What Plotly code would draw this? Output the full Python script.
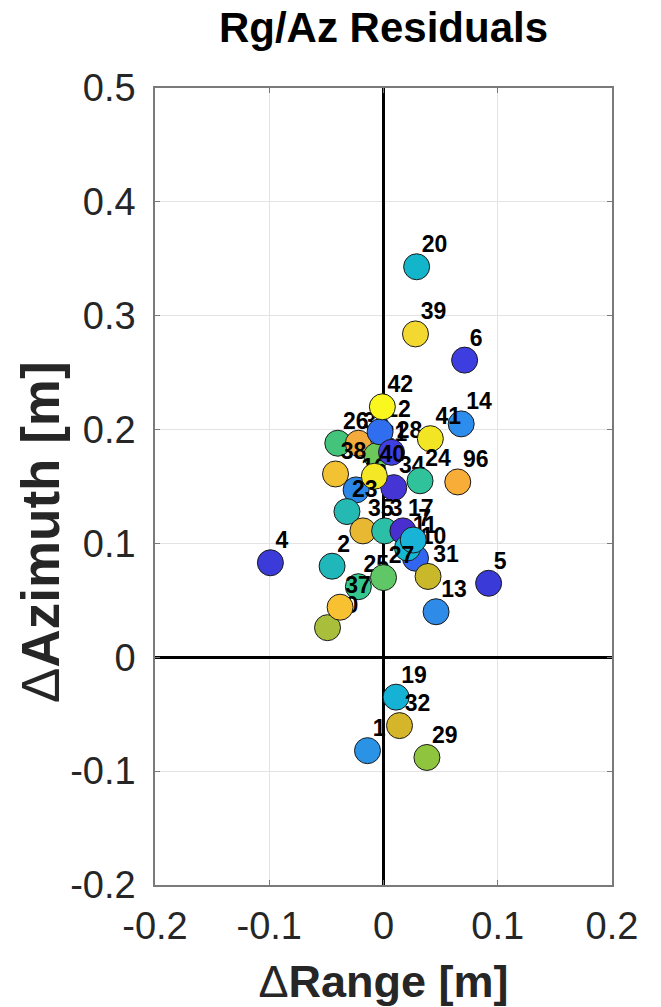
import plotly.graph_objects as go

# point labels (in drawing order), residuals (range, azimuth) in metres, marker colours
labels = ["1", "4", "5", "6", "13", "14", "19", "20", "29", "32", "39",
          "26", "36", "21", "12", "42", "16", "34", "28", "38", "40", "41", "24", "96",
          "23", "35", "3", "17", "10", "11", "7", "2", "25", "27", "30", "37", "31"]
d_range = [-0.014, -0.099, 0.092, 0.071, 0.046, 0.068, 0.011, 0.029, 0.038, 0.014, 0.028,
           -0.040, -0.022, -0.006, -0.003, -0.001, -0.024, 0.009, 0.007, -0.042, -0.008, 0.041, 0.032, 0.065,
           -0.032, -0.018, 0.001, 0.017, 0.028, 0.021, 0.026, -0.045, -0.022, 0.000, -0.049, -0.038, 0.039]
d_azimuth = [-0.082, 0.083, 0.065, 0.261, 0.040, 0.205, -0.035, 0.343, -0.088, -0.060, 0.284,
             0.188, 0.188, 0.177, 0.198, 0.220, 0.147, 0.149, 0.180, 0.161, 0.159, 0.192, 0.155, 0.154,
             0.128, 0.111, 0.111, 0.111, 0.087, 0.096, 0.103, 0.080, 0.062, 0.070, 0.026, 0.044, 0.071]
colors = ["#2a93e6", "#3b3bd9", "#3a3ad8", "#3d3de0", "#2f8be8", "#2d8ded", "#15b2d5", "#12b5c9", "#8fc43e", "#d5b52a", "#f3d830",
          "#43c47a", "#f5aa3c", "#6cc85a", "#2f6fef", "#f9f71e", "#2b86e8", "#4535d5", "#3f3fe2", "#f3c232", "#f4e826", "#f2e624", "#30c29a", "#f7ad38",
          "#24b9b2", "#e9b832", "#2bbfa8", "#4a2fd0", "#3366f0", "#14b8d0", "#1ab3d8", "#1fb7ba", "#35c88e", "#5fc765", "#a9bf3c", "#f7c132", "#c9b92a"]

x_ticks = [-0.2, -0.1, 0, 0.1, 0.2]
x_ticktext = ["-0.2", "-0.1", "0", "0.1", "0.2"]
y_ticks = [-0.2, -0.1, 0, 0.1, 0.2, 0.3, 0.4, 0.5]
y_ticktext = ["-0.2", "-0.1", "0", "0.1", "0.2", "0.3", "0.4", "0.5"]

LABEL_DX = 0.0045   # label offset from its point (data units)
LABEL_DY = 0.0178

fig = go.Figure()
for lab, xv, yv, c in zip(labels, d_range, d_azimuth, colors):
    fig.add_trace(go.Scatter(
        x=[xv], y=[yv], mode="markers",
        marker=dict(size=26, color=c, line=dict(color="#1a1a1a", width=1)),
        hoverinfo="skip", showlegend=False))
    fig.add_trace(go.Scatter(
        x=[xv + LABEL_DX], y=[yv + LABEL_DY], mode="text", text=[lab],
        textposition="middle right",
        textfont=dict(family="Liberation Sans", size=23, color="#000000", weight="bold"),
        hoverinfo="skip", showlegend=False))

axis_common = dict(
    showgrid=True, gridcolor="#e3e3e3", gridwidth=1,
    zeroline=True, zerolinecolor="#000000", zerolinewidth=3,
    showline=True, linecolor="#7a7a7a", linewidth=1.5, mirror="ticks",
    ticks="inside", ticklen=5, tickcolor="#7a7a7a",
    tickfont=dict(family="Liberation Sans", size=38, color="#262626"),
    automargin=False,
)

fig.update_layout(
    width=661, height=1007,
    margin=dict(l=155, r=49, t=88, b=122),
    paper_bgcolor="white", plot_bgcolor="white",
    title=dict(text="<b>Rg/Az Residuals</b>", x=0.5, xref="paper", xanchor="center",
               y=1 - 27 / 1007, yref="container", yanchor="middle",
               font=dict(family="Liberation Sans", size=42, color="#000000")),
    xaxis=dict(range=[-0.2, 0.2], tickvals=x_ticks, ticktext=x_ticktext,
               ticklabelstandoff=7,
               title=dict(text="Δ<b>Range [m]</b>", standoff=27,
                          font=dict(family="Liberation Sans", size=45, color="#262626")),
               **axis_common),
    yaxis=dict(range=[-0.2, 0.5], tickvals=y_ticks, ticktext=y_ticktext,
               ticklabelstandoff=10, **axis_common),
)

# y-axis title placed as an annotation so its position along the axis matches
fig.add_annotation(text="Δ<b>Azimuth [m]</b>", textangle=-90, showarrow=False,
                   xref="paper", yref="paper", x=(40 - 155) / 457, y=(885 - 532) / 797,
                   xanchor="center", yanchor="middle",
                   font=dict(family="Liberation Sans", size=53, color="#262626"))

fig.write_html("out.html")
